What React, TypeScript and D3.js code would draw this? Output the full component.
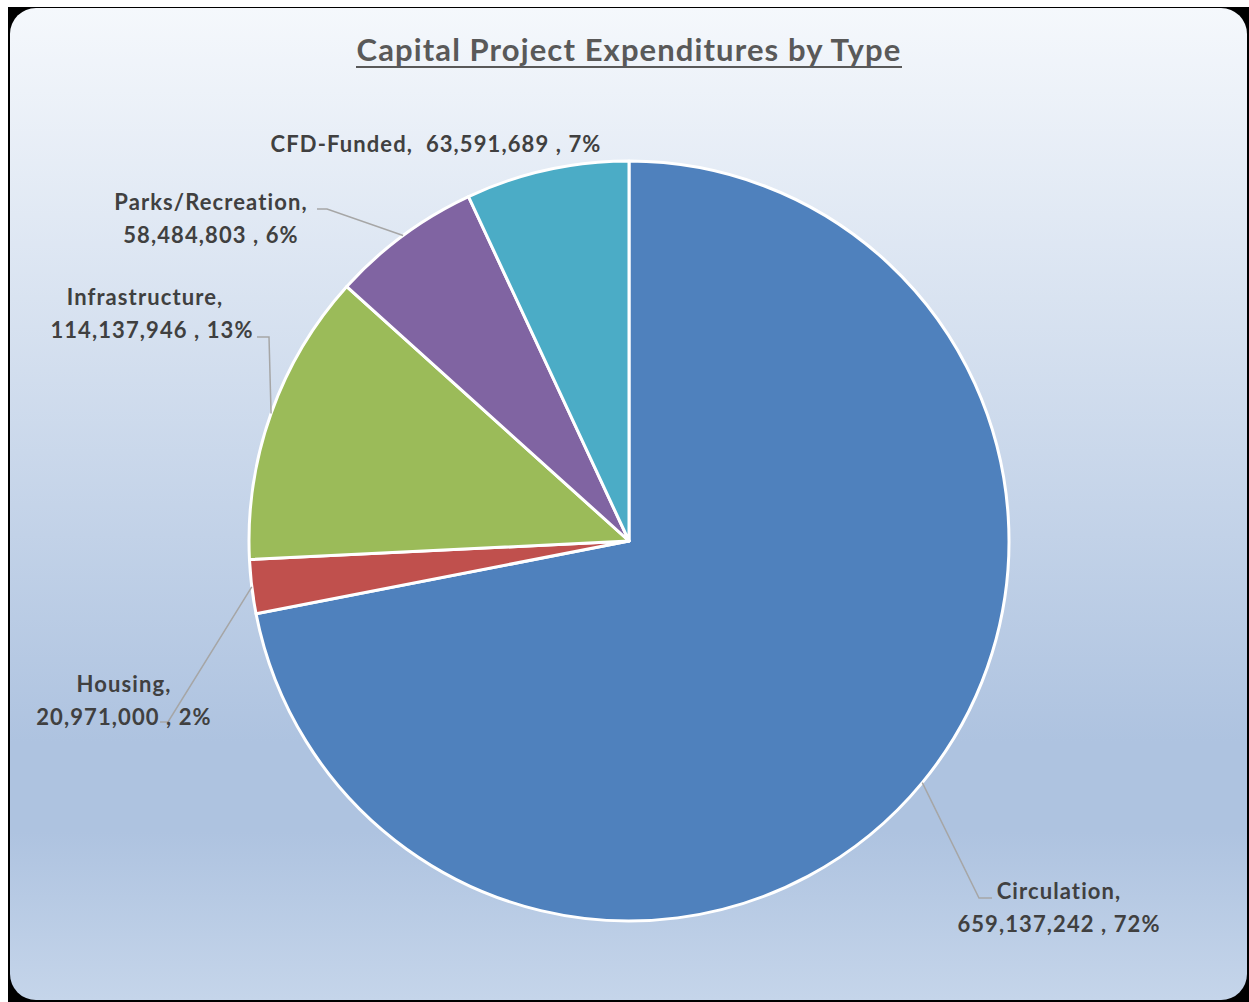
import React from "react";
import * as d3 from "d3";

const categories = ["Circulation", "Housing", "Infrastructure", "Parks/Recreation", "CFD-Funded"];
const values = [659137242, 20971000, 114137946, 58484803, 63591689];
const percents = ["72%", "2%", "13%", "6%", "7%"];
const colors = ["#4f81bd", "#c0504d", "#9bbb59", "#8064a2", "#4bacc6"];
const title = "Capital Project Expenditures by Type";

const W = 1249;
const H = 1002;
const CX = 629;
const CY = 541;
const R = 380;

const FONT = "Lato, 'Open Sans', sans-serif";

// label layout: anchor x per line, first baseline y, leader elbow points
const labelLayout = [
  { single: false, x: [1059, 1059], y: 899, elbow: [[992, 898], [979, 898]] },
  { single: false, x: [124, 124], y: 692, elbow: [[160, 722], [168, 722]] },
  { single: false, x: [145, 152], y: 305, elbow: [[257, 337], [269, 337]] },
  { single: false, x: [211, 211], y: 210, elbow: [[317, 209], [327, 209]] },
  { single: true, x: [436], y: 152, elbow: [] as number[][] },
];

export default function App() {
  const pie = d3.pie<number>().sort(null).value((d) => d).startAngle(0).endAngle(2 * Math.PI);
  const arcs = pie(values);
  const arcGen = d3.arc<d3.PieArcDatum<number>>().innerRadius(0).outerRadius(R);
  const fmt = d3.format(",");

  return (
    <svg width={W} height={H} style={{ position: "absolute", left: 0, top: 0 }} xmlns="http://www.w3.org/2000/svg">
      <defs>
        <linearGradient id="bg" x1="0" y1="0" x2="0" y2="1">
          <stop offset="0" stopColor="#f5f8fc" />
          <stop offset="0.74" stopColor="#aec3e0" />
          <stop offset="0.83" stopColor="#aec3e0" />
          <stop offset="1" stopColor="#c5d5ea" />
        </linearGradient>
      </defs>
      <rect x={0} y={0} width={W} height={H} fill="#ffffff" />
      <rect x={8} y={7} width={W - 8} height={H - 7} fill="#000000" />
      <rect x={10} y={8} width={1237} height={992} rx={26} ry={26} fill="url(#bg)" />

      <text
        x={629}
        y={61}
        textAnchor="middle"
        fontFamily={FONT}
        fontWeight="bold"
        fontSize={31}
        fill="#595959"
        letterSpacing={1.1}
        style={{ fontVariantLigatures: "none" }}
      >
        {title}
      </text>
      <line x1={356} x2={902} y1={67} y2={67} stroke="#595959" strokeWidth={2} />

      <g transform={`translate(${CX},${CY})`}>
        {arcs.map((a, i) => (
          <path key={i} d={arcGen(a) || ""} fill={colors[i]} stroke="#ffffff" strokeWidth={3} strokeLinejoin="round" />
        ))}
      </g>

      {arcs.map((a, i) => {
        const mid = (a.startAngle + a.endAngle) / 2;
        const px = CX + R * Math.sin(mid);
        const py = CY - R * Math.cos(mid);
        const L = labelLayout[i];
        if (!L.elbow.length) return null;
        const pts = [...L.elbow, [px, py]];
        return (
          <polyline key={"l" + i} points={pts.map((p) => p.join(",")).join(" ")} fill="none" stroke="#a6a6a6" strokeWidth={1.5} />
        );
      })}

      {categories.map((c, i) => {
        const L = labelLayout[i];
        const v = fmt(values[i]);
        const lines = L.single ? [`${c},  ${v} , ${percents[i]}`] : [`${c},`, `${v} , ${percents[i]}`];
        return (
          <text
            key={"t" + i}
            fontFamily={FONT}
            fontWeight="bold"
            fontSize={22}
            fill="#404040"
            textAnchor="middle"
            letterSpacing={1.1}
            style={{ whiteSpace: "pre", fontVariantLigatures: "none" }}
          >
            {lines.map((ln, j) => (
              <tspan key={j} x={L.x[j]} y={L.y + j * 33}>
                {ln}
              </tspan>
            ))}
          </text>
        );
      })}
    </svg>
  );
}
